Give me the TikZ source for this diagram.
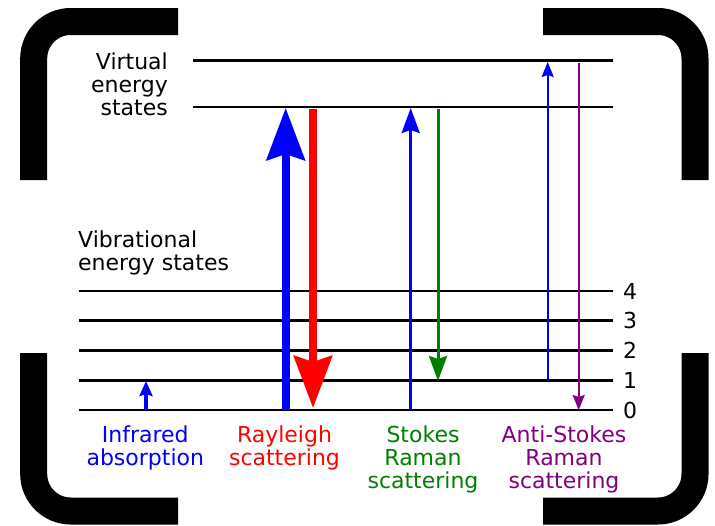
\documentclass[tikz,border=0pt]{standalone}
\usepackage{fontspec}
\setmainfont{DejaVu Sans}
\usetikzlibrary{arrows.meta}
\definecolor{stokesgreen}{RGB}{0,128,0}
\definecolor{antipurple}{RGB}{128,0,128}
\begin{document}
\begin{tikzpicture}[x=1pt,y=-1pt,
  bracket/.style={line width=27pt, rounded corners=37pt},
  level/.style={line width=2.2pt},
  lbl/.style={inner sep=0pt, font=\fontsize{22}{22.7}\selectfont},
  num/.style={lbl, anchor=west},
  bigup/.style={line width=8pt, -{Stealth[length=52pt,width=38pt,inset=6pt]}},
  midarr/.style={line width=3pt, -{Stealth[length=25pt,width=18pt,inset=3pt]}},
  smallarr/.style={line width=2pt, -{Stealth[length=15pt,width=12pt,inset=2pt]}},
  irarr/.style={line width=3.5pt, -{Stealth[length=15pt,width=13pt,inset=2pt]}}]
\useasboundingbox (0,0) rectangle (715,525);
\fill[white] (0,0) rectangle (715,525);
% corner brackets
\draw[bracket] (33.7,180) -- (33.7,21.5) -- (178,21.5);
\draw[bracket] (543,21.5) -- (695,21.5) -- (695,180);
\draw[bracket] (33.7,353) -- (33.7,511) -- (178,511);
\draw[bracket] (543,511) -- (695,511) -- (695,353);
% virtual levels
\coordinate (v1l) at (193,60.5); \coordinate (v1r) at (613,60.5);
\coordinate (v0l) at (193,107); \coordinate (v0r) at (613,107);
\draw[level] (v1l) -- (v1r);
\draw[level] (v0l) -- (v0r);
% vibrational levels
\foreach \n/\y in {0/410,1/380.5,2/350.5,3/320.5,4/291}{
  \coordinate (l\n) at (79,\y);
  \coordinate (r\n) at (613,\y);
  \draw[level] (l\n) -- (r\n);
  \node[num] (n\n) at (623,\y) {\n};
}
% labels
\node[lbl, anchor=north east, align=right] (virt) at (168,53) {Virtual\\energy\\states};
\node[lbl, anchor=north west, align=left] (vib) at (78,231) {Vibrational\\energy states};
\node[lbl, anchor=north, align=center, text=blue] (ir) at (145.3,426) {Infrared\\absorption};
\node[lbl, anchor=north, align=center, text=red] (ray) at (284.5,426) {Rayleigh\\scattering};
\node[lbl, anchor=north, align=center, text=stokesgreen] (sto) at (423,426) {Stokes\\Raman\\scattering};
\node[lbl, anchor=north, align=center, text=antipurple] (ast) at (564,426) {Anti-Stokes\\Raman\\scattering};
% arrow end points
\coordinate (irA) at (146,410); \coordinate (irB) at (146,381);
\coordinate (rayA) at (285.7,410); \coordinate (rayB) at (285.7,108);
\coordinate (rayC) at (313,109); \coordinate (rayD) at (313,408);
\coordinate (stA) at (410.7,410); \coordinate (stB) at (410.7,108);
\coordinate (stC) at (438,109); \coordinate (stD) at (438,381);
\coordinate (asA) at (547.7,381); \coordinate (asB) at (547.7,62);
\coordinate (asC) at (578.7,63); \coordinate (asD) at (578.7,410);
% arrows
\draw[irarr, blue] (irA) -- (irB);
\draw[bigup, blue] (rayA) -- (rayB);
\draw[bigup, red] (rayC) -- (rayD);
\draw[midarr, blue] (stA) -- (stB);
\draw[midarr, stokesgreen] (stC) -- (stD);
\draw[smallarr, blue] (asA) -- (asB);
\draw[smallarr, antipurple] (asC) -- (asD);
\end{tikzpicture}
\end{document}
